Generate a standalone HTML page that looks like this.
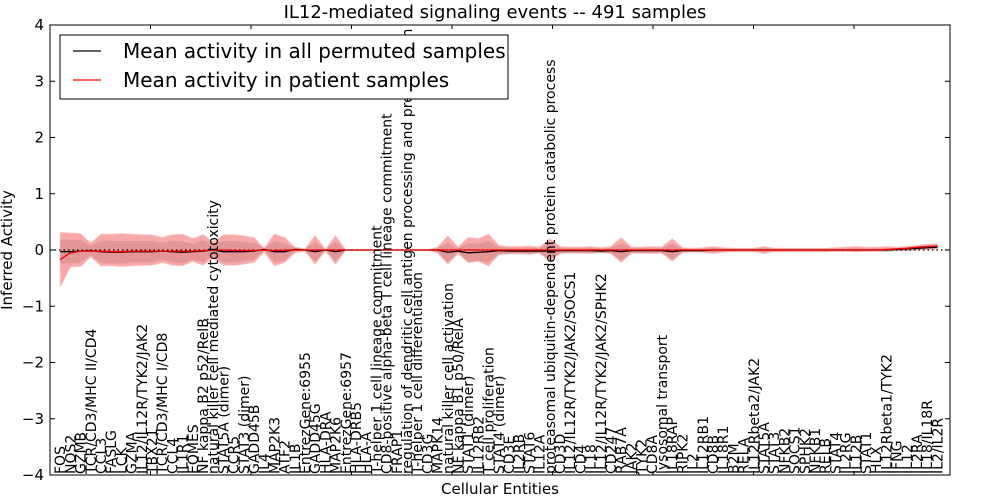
<!DOCTYPE html>
<html><head><meta charset="utf-8"><style>
body{margin:0;background:#fff;}
svg{display:block;font-family:"DejaVu Sans","Liberation Sans",sans-serif;}
</style></head><body>
<svg id="chart" width="1000" height="500" xmlns="http://www.w3.org/2000/svg">
<text x="495" y="18" font-size="18" text-anchor="middle">IL12-mediated signaling events -- 491 samples</text>
<g id="plot"></g>
<text x="500" y="494" font-size="15" text-anchor="middle">Cellular Entities</text>
<text transform="translate(12,250) rotate(-90)" font-size="15" text-anchor="middle">Inferred Activity</text>
<g>
<rect x="60" y="35" width="448" height="64" fill="#fff" stroke="#000" stroke-width="1"/>
<line x1="73" y1="51" x2="101" y2="51" stroke="#000" stroke-width="1.2"/>
<text x="123" y="58" font-size="20">Mean activity in all permuted samples</text>
<line x1="73" y1="80" x2="101" y2="80" stroke="#f00" stroke-width="1.2"/>
<text x="123" y="87" font-size="20">Mean activity in patient samples</text>
</g>
</svg>
<script>
const categories=["FOS","NOS2","GZMB","TCR/CD3/MHC II/CD4","CCL3","FASLG","LCK","GZMA","IL12/IL12R/TYK2/JAK2","TBX21","TCR/CD3/MHC I/CD8","CCL4","IL1R1","EOMES","NF kappa B2 p52/RelB","natural killer cell mediated cytotoxicity","STAT5A (dimer)","CCR5","STAT3 (dimer)","GADD45B","IL4","MAP2K3","ATF2","IL1B","EntrezGene:6955","GADD45G","HLA-DRA","MAP2K6","EntrezGene:6957","HLA-DRB5","HLA-A","T-helper 1 cell lineage commitment","CD8-positive alpha-beta T cell lineage commitment","FRAP1","regulation of dendritic cell antigen processing and presentation","T-helper 1 cell differentiation","CD3G","MAPK14","natural killer cell activation","NF kappa B1 p50/RelA","STAT1 (dimer)","IL12RB2","T cell proliferation","STAT4 (dimer)","CD3E","IL2RB","STAT6","IL12A","proteasomal ubiquitin-dependent protein catabolic process","CD3D","IL12/IL12R/TYK2/JAK2/SOCS1","CD4","IL18","IL12/IL12R/TYK2/JAK2/SPHK2","CD247","RAB7A","JAK2","TYK2","CD8A","lysosomal transport","IL18RAP","RIPK2","IL2","IL12RB1","CD8B","IL18R1","B2M","RELA","IL12Rbeta2/JAK2","STAT5A","STAT3","NFKB2","SOCS1","SPHK2","NFKB1","RELB","STAT4","IL2RG","IL12B","STAT1","HLX","IL12Rbeta1/TYK2","IFNG","IL12","IL2RA","IL18/IL18R","IL2/IL2R"];
const patientMean=[-0.17,-0.05,-0.02,-0.02,-0.02,-0.03,-0.03,-0.02,-0.02,-0.02,-0.02,-0.02,-0.02,-0.02,-0.01,0,0,-0.01,-0.01,-0.01,0,-0.01,0,0,0,0,0,0,0,0,0,0,0,0,0,0,0,0,0,0,0,0,0,0,0,0,0,0,0,0,0,0,0,0,0,0,0,0,0,0,0,0,0,0,0,0,0,0,0,0,0,0,0,0,0,0,0,0,0,0,0,0.01,0.02,0.03,0.05,0.06,0.07];
const permutedMean=[-0.03,-0.03,-0.02,-0.01,-0.03,-0.04,-0.04,-0.03,-0.03,-0.03,-0.02,-0.03,-0.04,-0.03,-0.02,0,-0.03,-0.03,-0.03,-0.02,0.01,-0.03,-0.03,0.01,0,-0.03,0,-0.03,0,0,0,0,0,0,0,0,0,0,-0.04,-0.02,-0.05,-0.04,-0.03,-0.01,-0.02,-0.02,-0.02,-0.02,-0.02,-0.01,-0.01,-0.01,-0.01,-0.02,-0.01,-0.03,-0.01,-0.01,-0.01,-0.01,-0.03,-0.01,-0.01,-0.01,0,0,0,0,0,0,0,0,0,0,0,0,0,0,0,0,0,0,0.01,0.02,0.03,0.04,0.05];
const patientUpper=[0.31,0.30,0.29,0.12,0.28,0.28,0.29,0.28,0.27,0.27,0.22,0.27,0.28,0.20,0.27,0.14,0.27,0.27,0.25,0.22,0.03,0.28,0.22,0.05,0.02,0.25,0.01,0.25,0,0,0,0,0,0,0,0,0,0.05,0.25,0.05,0.22,0.20,0.28,0.08,0.06,0.06,0.07,0.05,0.20,0.06,0.05,0.05,0.06,0.04,0.06,0.22,0.05,0.05,0.06,0.05,0.20,0.04,0.03,0.04,0.06,0.04,0.03,0.03,0.03,0.06,0.03,0.03,0.03,0.03,0.03,0.03,0.04,0.05,0.06,0.05,0.05,0.06,0.05,0.06,0.08,0.10,0.11];
const patientLower=[-0.65,-0.30,-0.29,-0.12,-0.28,-0.28,-0.29,-0.28,-0.27,-0.27,-0.22,-0.27,-0.28,-0.20,-0.27,-0.14,-0.27,-0.27,-0.25,-0.22,-0.03,-0.28,-0.22,-0.05,-0.02,-0.25,-0.01,-0.25,0,0,0,0,0,0,0,0,0,-0.05,-0.25,-0.05,-0.22,-0.20,-0.28,-0.08,-0.06,-0.06,-0.07,-0.05,-0.20,-0.06,-0.05,-0.05,-0.06,-0.04,-0.06,-0.22,-0.05,-0.05,-0.06,-0.05,-0.20,-0.04,-0.03,-0.04,-0.06,-0.04,-0.03,-0.03,-0.03,-0.06,-0.03,-0.03,-0.03,-0.03,-0.03,-0.03,-0.02,-0.02,-0.03,-0.02,-0.02,-0.02,-0.01,-0.01,0,0.01,0.02];
const permutedBand=[0.21,0.21,0.20,0.08,0.20,0.20,0.20,0.19,0.19,0.19,0.15,0.19,0.19,0.14,0.19,0.10,0.19,0.19,0.17,0.15,0.02,0.19,0.15,0.03,0.02,0.17,0.01,0.17,0,0,0,0,0,0,0,0,0,0.04,0.17,0.05,0.17,0.15,0.19,0.07,0.06,0.06,0.06,0.05,0.14,0.05,0.05,0.05,0.05,0.04,0.05,0.15,0.05,0.05,0.05,0.05,0.14,0.04,0.03,0.03,0.04,0.03,0.03,0.03,0.03,0.04,0.03,0.03,0.03,0.03,0.03,0.03,0.03,0.03,0.03,0.03,0.03,0.03,0.03,0.03,0.03,0.03,0.03];
const yTicks=[-4,-3,-2,-1,0,1,2,3,4];

const L=50,R=950,T=25,B=475;
const xs=i=>L+(i+1)*10.2;
const ys=v=>250-v*56.25;
const NS="http://www.w3.org/2000/svg";
const g=document.getElementById('plot');
function mk(tag,attrs){const e=document.createElementNS(NS,tag);for(const k in attrs)e.setAttribute(k,attrs[k]);g.appendChild(e);return e;}
function area(up,lo){let d='';up.forEach((v,i)=>{d+=(i?'L':'M')+xs(i)+','+ys(v);});for(let i=lo.length-1;i>=0;i--)d+='L'+xs(i)+','+ys(lo[i]);return d+'Z';}
const pb=mk('path',{d:area(permutedMean.map((m,i)=>m+permutedBand[i]),permutedMean.map((m,i)=>m-permutedBand[i])),fill:'#bbb',opacity:0.5});


const rb=mk('path',{d:area(patientUpper,patientLower),fill:'#e33',opacity:0.42,stroke:'#f66','stroke-width':1});


const z=mk('line',{x1:L,x2:R,y1:ys(0),y2:ys(0),stroke:'#000','stroke-dasharray':'1.5,3','stroke-width':1.2});


function line(arr,col){return mk('polyline',{points:arr.map((v,i)=>xs(i)+','+ys(v)).join(' '),fill:'none',stroke:col,'stroke-width':1.3});}
const lp=line(permutedMean,'#000');


const lr=line(patientMean,'#f00');


const fr=mk('rect',{x:L,y:T,width:R-L,height:B-T,fill:'none',stroke:'#000','stroke-width':1});


yTicks.forEach(t=>{
 mk('line',{x1:L,x2:L+5,y1:ys(t),y2:ys(t),stroke:'#000'});
 mk('line',{x1:R-5,x2:R,y1:ys(t),y2:ys(t),stroke:'#000'});
 const tx=mk('text',{x:L-6,y:ys(t)+5,'font-size':15,'text-anchor':'end'});
 tx.textContent=(t<0?'\u2212':'')+Math.abs(t);
 
 
});
for(let k=1;k<9;k++){const x=L+k*100.5;mk('line',{x1:x,x2:x,y1:T,y2:T+4,stroke:'#000'});mk('line',{x1:x,x2:x,y1:B-4,y2:B,stroke:'#000'});}
categories.forEach((c,i)=>{
 const tx=mk('text',{transform:'translate('+(xs(i)+5)+','+(B-1)+') rotate(-90)','font-size':14});
 tx.textContent=c;
 
 
});
</script>
</body></html>
